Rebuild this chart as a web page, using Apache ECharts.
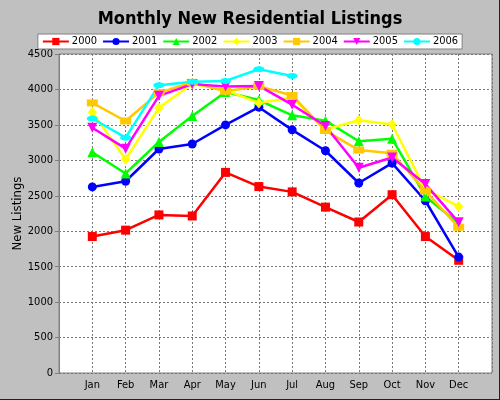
<!DOCTYPE html>
<html>
<head>
<meta charset="utf-8">
<script src="https://cdn.jsdelivr.net/npm/echarts@6/dist/echarts.min.js"></script>
<style>
  html, body { margin: 0; padding: 0; background: #c0c0c0; }
  #chart { width: 500px; height: 400px; }
</style>
</head>
<body>
<div id="chart"></div>
<script>
// categories
var months = ['Jan', 'Feb', 'Mar', 'Apr', 'May', 'Jun', 'Jul', 'Aug', 'Sep', 'Oct', 'Nov', 'Dec'];

// series values
var y2000 = [1925, 2015, 2230, 2215, 2830, 2630, 2555, 2340, 2130, 2515, 1925, 1590];
var y2001 = [2625, 2705, 3160, 3230, 3500, 3750, 3430, 3135, 2680, 2960, 2430, 1635];
var y2002 = [3115, 2815, 3260, 3625, 3965, 3850, 3635, 3560, 3270, 3305, 2490, 2110];
var y2003 = [3680, 3015, 3740, 4080, 3990, 3810, 3885, 3435, 3565, 3505, 2590, 2350];
var y2004 = [3810, 3555, 3955, 4100, 3975, 4045, 3915, 3420, 3145, 3100, 2570, 2055];
var y2005 = [3460, 3165, 3910, 4075, 4040, 4050, 3785, 3485, 2895, 3040, 2665, 2125];
var y2006 = [3590, 3320, 4060, 4110, 4120, 4285, 4190];

var yTicks = [0, 4500, 500];

// pad one empty slot each side so the months sit in from the border
var cats = [''].concat(months, ['']);
function pad(arr) {
  var out = [null].concat(arr);
  while (out.length < cats.length) out.push(null);
  return out;
}

var ellipse = 'path://M0,5 A10,5 0 1,1 20,5 A10,5 0 1,1 0,5 Z';
var font = 'DejaVu Sans Condensed, DejaVu Sans';

var seriesDefs = [
  { name: '2000', data: y2000, color: '#ff0000', symbol: 'rect', size: 9 },
  { name: '2001', data: y2001, color: '#0000ff', symbol: 'circle', size: 9 },
  { name: '2002', data: y2002, color: '#00ff00', symbol: 'triangle', size: 10 },
  { name: '2003', data: y2003, color: '#ffff00', symbol: 'diamond', size: [9, 11] },
  { name: '2004', data: y2004, color: '#ffc800', symbol: 'rect', size: [11, 7] },
  { name: '2005', data: y2005, color: '#ff00ff', symbol: 'triangle', size: 10, rotate: 180 },
  { name: '2006', data: y2006, color: '#00ffff', symbol: ellipse, size: [11, 6] }
];

var series = seriesDefs.map(function (s) {
  return {
    name: s.name,
    type: 'line',
    data: pad(s.data),
    symbol: s.symbol,
    symbolSize: s.size,
    symbolRotate: s.rotate || 0,
    showAllSymbol: true,
    connectNulls: false,
    itemStyle: { color: s.color },
    lineStyle: { color: s.color, width: 2.5 },
    emphasis: { disabled: true },
    animation: false
  };
});

var chart = echarts.init(document.getElementById('chart'));

chart.setOption({
  backgroundColor: '#c0c0c0',
  textStyle: { fontFamily: font },
  title: {
    text: 'Monthly New Residential Listings',
    left: 'center',
    top: 5,
    textStyle: { fontSize: 18, fontWeight: 'bold', color: '#000', fontFamily: font }
  },
  legend: {
    top: 34,
    left: 'center',
    backgroundColor: '#fff',
    borderColor: '#808080',
    borderWidth: 1,
    borderRadius: 0,
    padding: [2, 4, 2, 4],
    itemWidth: 26,
    itemHeight: 9,
    itemGap: 5,
    textStyle: { fontSize: 11, color: '#000', fontFamily: font, padding: [0, 0, 0, -2] },
    data: seriesDefs.map(function (s) { return s.name; })
  },
  grid: {
    left: 59, right: 8, top: 54, bottom: 27,
    outerBoundsMode: 'none',
    containLabel: false,
    show: true, backgroundColor: '#fff', borderColor: '#808080', borderWidth: 1
  },
  xAxis: {
    type: 'category',
    data: cats,
    boundaryGap: false,
    axisLine: { show: false },
    axisTick: { show: false },
    axisLabel: { interval: 0, fontSize: 11, color: '#000', margin: 7 },
    splitLine: { show: true, lineStyle: { color: '#777', type: [2, 2], width: 1 } }
  },
  yAxis: {
    type: 'value',
    min: yTicks[0],
    max: yTicks[1],
    interval: yTicks[2],
    name: 'New Listings',
    nameLocation: 'middle',
    nameGap: 35,
    nameMoveOverlap: false,
    nameTextStyle: { fontSize: 13, color: '#000' },
    axisLine: { show: true, lineStyle: { color: '#808080' } },
    axisTick: { show: true, length: 4, lineStyle: { color: '#808080' } },
    axisLabel: { fontSize: 11, color: '#000', margin: 6, formatter: function (v) { return String(v); } },
    splitLine: { show: true, lineStyle: { color: '#777', type: [2, 2], width: 1 } }
  },
  graphic: [
    { type: 'rect', right: 0, top: 0, shape: { width: 1, height: 400 }, style: { fill: '#222' } },
    { type: 'rect', left: 0, bottom: 0, shape: { width: 500, height: 1 }, style: { fill: '#222' } }
  ],
  series: series
});
</script>
</body>
</html>
